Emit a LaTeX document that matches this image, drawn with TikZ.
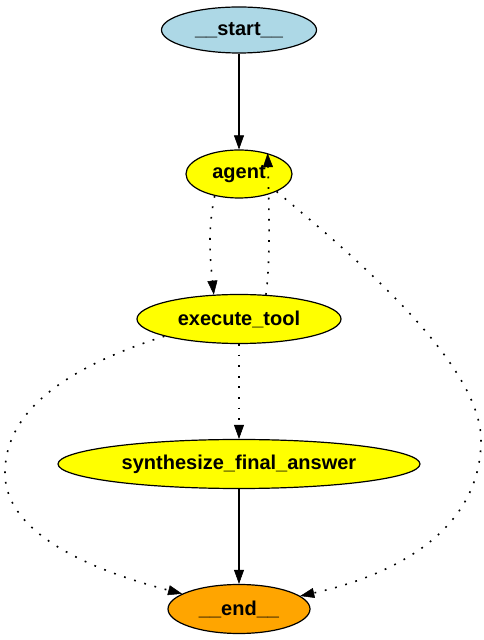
\documentclass[tikz,border=0pt]{standalone}
\usepackage{fontspec}
\setmainfont{Liberation Sans}
\usetikzlibrary{arrows.meta,shapes.geometric}
\definecolor{lblue}{RGB}{173,216,230}
\definecolor{gyellow}{RGB}{255,255,0}
\definecolor{gorange}{RGB}{255,165,0}
\tikzset{
  gnode/.style={ellipse, draw=black, line width=1.2pt, inner sep=0pt,
    font=\fontsize{20}{22}\selectfont\bfseries},
  garrow/.style={line width=1.2pt, -{Triangle[length=14pt,width=10pt,line width=0.5pt]}},
  gdot/.style={garrow, line width=1.6pt, dash pattern=on 1.8pt off 8.8pt},
}
\begin{document}
\begin{tikzpicture}[x=1pt,y=1pt]
\useasboundingbox (0,0) rectangle (484,640);
\node[gnode, fill=lblue, minimum width=155pt, minimum height=46pt] (start) at (239,610) {\_\_start\_\_};
\node[gnode, fill=gyellow, minimum width=106pt, minimum height=48pt] (agent) at (239,466) {agent};
\node[gnode, fill=gyellow, minimum width=204pt, minimum height=49pt] (exec) at (239,321) {execute\_tool};
\node[gnode, fill=gyellow, minimum width=362pt, minimum height=49pt] (synth) at (239,176) {synthesize\_final\_answer};
\node[gnode, fill=gorange, minimum width=142pt, minimum height=49pt] (end) at (239,31) {\_\_end\_\_};
\draw[garrow] (start) -- (agent);
\draw[gdot] (agent.222) .. controls +(-7,-35) and +(-4,40) .. (exec.136.5);
\draw[gdot] (exec.42) .. controls +(5,35) and +(1,-40) .. (agent.36);
\draw[gdot] (agent.-25) .. controls (340,395) and (481,280) .. (481,200)
  .. controls (481,110) and (395,65) .. (end.12);
\draw[gdot] (exec.193) .. controls (90,280) and (5,240) .. (5,167)
  .. controls (5,100) and (110,65) .. (end.165);
\draw[gdot] (exec) -- (synth);
\draw[garrow] (synth) -- (end);
\end{tikzpicture}
\end{document}
